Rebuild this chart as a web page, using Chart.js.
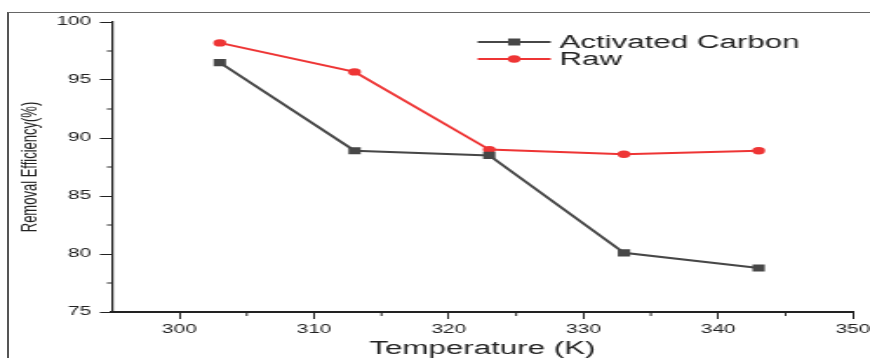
<!DOCTYPE html>
<html>
<head>
<meta charset="utf-8">
<script src="https://cdn.jsdelivr.net/npm/chart.js@4.4.0/dist/chart.umd.min.js"></script>
<style>
  html, body { margin: 0; padding: 0; background: #fff; overflow: hidden; }
  #frame {
    position: absolute; left: 7px; top: 12px; width: 900px; height: 400px;
    border-left: 2px solid #555; border-top: 1px solid #666;
  }
  #chart { position: absolute; left: 0; top: 0; }
</style>
</head>
<body>
<div id="frame"></div>
<!-- the original figure is stretched sideways, so the canvas is drawn narrow and widened by css -->
<canvas id="chart" width="500" height="358" style="width:870px;height:358px"></canvas>
<script>
const temperatures = [303, 313, 323, 333, 343];
const activatedCarbon = [96.5, 88.9, 88.5, 80.1, 78.8];
const raw = [98.2, 95.7, 89.0, 88.6, 88.9];
const seriesLabels = ["Activated Carbon", "Raw"];
const seriesColors = ["#474747", "#ee3535"];

const xTicks = [300, 310, 320, 330, 340, 350];
const xMinorTicks = [305, 315, 325, 335, 345];
const yMinorTicks = [77.5, 82.5, 87.5, 92.5, 97.5];

const FONT = "'Liberation Sans', Arial, sans-serif";

function toPoints(values) {
  return values.map((v, i) => ({ x: temperatures[i], y: v }));
}

// short ticks half way between the labelled ones
const minorTicks = {
  id: "minorTicks",
  afterDraw(chart) {
    const ctx = chart.ctx;
    const xs = chart.scales.x;
    const ys = chart.scales.y;
    ctx.save();
    ctx.strokeStyle = "#222";
    ctx.lineWidth = 1;
    ctx.beginPath();
    xMinorTicks.forEach(v => {
      const px = xs.getPixelForValue(v);
      ctx.moveTo(px, xs.top);
      ctx.lineTo(px, xs.top + 4);
    });
    yMinorTicks.forEach(v => {
      const py = ys.getPixelForValue(v);
      ctx.moveTo(ys.right - 3, py);
      ctx.lineTo(ys.right, py);
    });
    ctx.stroke();
    ctx.restore();
  }
};

// legend sits inside the plot, top right
const insideLegend = {
  id: "insideLegend",
  afterDraw(chart) {
    const ctx = chart.ctx;
    const x1 = 274.5, x2 = 316.5, mx = 295.5, tx = 321.5;
    const rows = [42, 59];
    ctx.save();
    chart.data.datasets.forEach((ds, i) => {
      const y = rows[i];
      ctx.strokeStyle = ds.borderColor;
      ctx.fillStyle = ds.borderColor;
      ctx.lineWidth = 2;
      ctx.beginPath();
      ctx.moveTo(x1, y);
      ctx.lineTo(x2, y);
      ctx.stroke();
      ctx.beginPath();
      if (ds.pointStyle === "rect") {
        ctx.rect(mx - 3.5, y - 3.5, 7, 7);
      } else {
        ctx.arc(mx, y, 3.7, 0, Math.PI * 2);
      }
      ctx.fill();
      ctx.fillStyle = "#222";
      ctx.font = "18px " + FONT;
      ctx.textBaseline = "middle";
      ctx.textAlign = "left";
      ctx.fillText(ds.label, tx, y + 1);
    });
    ctx.restore();
  }
};

const ctx = document.getElementById("chart").getContext("2d");
new Chart(ctx, {
  type: "line",
  data: {
    datasets: [
      {
        label: seriesLabels[0],
        data: toPoints(activatedCarbon),
        borderColor: seriesColors[0],
        backgroundColor: seriesColors[0],
        borderWidth: 2,
        pointStyle: "rect",
        pointRadius: 5,
        pointBorderWidth: 0,
        tension: 0
      },
      {
        label: seriesLabels[1],
        data: toPoints(raw),
        borderColor: seriesColors[1],
        backgroundColor: seriesColors[1],
        borderWidth: 2,
        pointStyle: "circle",
        pointRadius: 3.7,
        pointBorderWidth: 0,
        tension: 0
      }
    ]
  },
  options: {
    responsive: false,
    devicePixelRatio: 1,
    animation: false,
    layout: { padding: { top: 22, right: 9.8, bottom: 0, left: 0 } },
    plugins: {
      legend: { display: false },
      tooltip: { enabled: false }
    },
    scales: {
      x: {
        type: "linear",
        min: 295,
        max: 350,
        afterBuildTicks: scale => {
          scale.ticks = xTicks.map(v => ({ value: v }));
        },
        afterFit: scale => {
          scale.height = 46;
          scale.paddingLeft = 0;
          scale.paddingRight = 0;
        },
        border: { display: true, color: "#222", width: 2 },
        grid: { drawOnChartArea: false, tickLength: 7, tickColor: "#222", tickWidth: 1 },
        ticks: {
          color: "#222",
          padding: 3,
          maxRotation: 0,
          autoSkip: false,
          font: { family: FONT, size: 12 }
        },
        title: {
          display: true,
          text: "Temperature (K)",
          color: "#222",
          padding: 0,
          font: { family: FONT, size: 18, lineHeight: 1 }
        }
      },
      y: {
        min: 75,
        max: 100,
        afterFit: scale => { scale.width = 64.4; },
        border: { display: true, color: "#222", width: 1.2 },
        grid: { drawOnChartArea: false, tickLength: 7, tickColor: "#222", tickWidth: 1 },
        ticks: {
          stepSize: 5,
          color: "#222",
          padding: 5,
          font: { family: FONT, size: 12 }
        },
        title: {
          display: true,
          text: "Removal Efficiency(%)",
          color: "#222",
          padding: { top: 10, bottom: 0 },
          font: { family: FONT, size: 13 }
        }
      }
    }
  },
  plugins: [minorTicks, insideLegend]
});
</script>
</body>
</html>
